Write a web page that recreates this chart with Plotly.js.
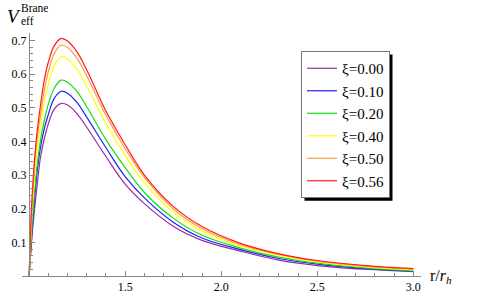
<!DOCTYPE html>
<html>
<head>
<meta charset="utf-8">
<script src="https://cdn.plot.ly/plotly-3.0.1.min.js"></script>
<style>html,body{margin:0;padding:0;background:#fff}#chart{width:482px;height:301px}</style>
</head>
<body>
<div id="chart"></div>
<script>
// r / r_h sample positions
const rValues = [1.0, 1.01, 1.02, 1.04, 1.06, 1.08, 1.1, 1.13, 1.167, 1.2, 1.25, 1.3, 1.4, 1.5, 1.6, 1.75, 1.9, 2.1, 2.3, 2.5, 2.75, 3.0];
// V_eff^Brane for each xi
const xiLabels = ["\u03BE=0.00", "\u03BE=0.10", "\u03BE=0.20", "\u03BE=0.40", "\u03BE=0.50", "\u03BE=0.56"];
const vXi000 = [0, 0.08, 0.15, 0.26, 0.355, 0.41, 0.452, 0.495, 0.513, 0.508, 0.482, 0.442, 0.355, 0.273, 0.215, 0.148, 0.106, 0.074, 0.047, 0.031, 0.020, 0.013];
const vXi010 = [0, 0.09, 0.17, 0.30, 0.385, 0.44, 0.48, 0.527, 0.549, 0.543, 0.515, 0.472, 0.381, 0.295, 0.232, 0.160, 0.113, 0.0785, 0.052, 0.035, 0.022, 0.0145];
const vXi020 = [0, 0.10, 0.19, 0.32, 0.405, 0.465, 0.51, 0.557, 0.582, 0.576, 0.548, 0.503, 0.405, 0.322, 0.248, 0.172, 0.121, 0.083, 0.056, 0.038, 0.024, 0.0155];
const vXi040 = [0, 0.13, 0.23, 0.365, 0.45, 0.52, 0.57, 0.625, 0.652, 0.645, 0.614, 0.564, 0.453, 0.358, 0.278, 0.190, 0.134, 0.089, 0.061, 0.042, 0.027, 0.018];
const vXi050 = [0, 0.15, 0.255, 0.40, 0.48, 0.555, 0.607, 0.66, 0.686, 0.679, 0.646, 0.595, 0.478, 0.378, 0.293, 0.200, 0.141, 0.093, 0.064, 0.044, 0.029, 0.020];
const vXi056 = [0, 0.17, 0.28, 0.42, 0.51, 0.585, 0.635, 0.683, 0.706, 0.698, 0.665, 0.612, 0.490, 0.390, 0.300, 0.207, 0.147, 0.097, 0.066, 0.046, 0.031, 0.022];
const xTickVals = [1.5, 2.0, 2.5, 3.0];
const xTickText = ["1.5", "2.0", "2.5", "3.0"];
const yTickVals = [0.1, 0.2, 0.3, 0.4, 0.5, 0.6, 0.7];
const yTickText = ["0.1", "0.2", "0.3", "0.4", "0.5", "0.6", "0.7"];

const series = [vXi000, vXi010, vXi020, vXi040, vXi050, vXi056];
const colors = ["#9030a0", "#2020ff", "#10e010", "#ffff00", "#ff9a40", "#ff1a1a"];

const traces = series.map((v, i) => ({
  x: rValues, y: v, type: "scatter", mode: "lines", name: xiLabels[i],
  line: {color: colors[i], width: 1.2, shape: "spline", smoothing: 1.0}
}));

const serif = "Liberation Serif";
const W = 482, H = 301, ml = 22, mr = 61, mt = 33, mb = 25.3;
const pw = W - ml - mr, ph = H - mt - mb;
const px = x => (x - ml) / pw;
const py = y => (H - mb - y) / ph;

const legendLeft = 301, legendTop = 51;

const layout = {
  width: W, height: H,
  margin: {l: ml, r: mr, t: mt, b: mb, pad: 0},
  paper_bgcolor: "#fff", plot_bgcolor: "#fff",
  font: {family: serif},
  showlegend: true,
  legend: {
    x: px(legendLeft), y: py(legendTop), xanchor: "left", yanchor: "top",
    bgcolor: "#fff", bordercolor: "#777", borderwidth: 1,
    font: {family: serif, size: 15, color: "#000"},
    tracegroupgap: 0
  },
  xaxis: {
    range: [0.963, 3.04], showgrid: false, zeroline: false,
    showline: true, linecolor: "#888", linewidth: 1,
    tickmode: "array", tickvals: xTickVals, ticktext: xTickText,
    ticks: "inside", ticklen: 5, tickcolor: "#888", tickwidth: 1,
    minor: {tickmode: "linear", tick0: 1, dtick: 0.1, ticks: "inside", ticklen: 3, tickcolor: "#888"},
    tickfont: {family: serif, size: 12, color: "#000"},
    fixedrange: true
  },
  yaxis: {
    range: [0, 0.722], showgrid: false, zeroline: false,
    anchor: "free", position: px(29),
    showline: true, linecolor: "#888", linewidth: 1,
    tickmode: "array", tickvals: yTickVals, ticktext: yTickText,
    ticks: "inside", ticklen: 5, tickcolor: "#888", tickwidth: 1,
    minor: {tickmode: "linear", tick0: 0, dtick: 0.02, ticks: "inside", ticklen: 3, tickcolor: "#888"},
    tickfont: {family: serif, size: 12, color: "#000"},
    fixedrange: true
  },
  shapes: [],
  annotations: [
    {xref: "paper", yref: "paper", x: px(6), y: py(17), xanchor: "left", yanchor: "middle", borderpad: 0,
     text: "<i>V</i>", showarrow: false, font: {family: serif, size: 19, color: "#000"}},
    {xref: "paper", yref: "paper", x: px(19.5), y: py(8), xanchor: "left", yanchor: "middle", borderpad: 0,
     text: "Brane", showarrow: false, font: {family: serif, size: 11.5, color: "#000"}},
    {xref: "paper", yref: "paper", x: px(19.5), y: py(21.5), xanchor: "left", yanchor: "middle", borderpad: 0,
     text: "eff", showarrow: false, font: {family: serif, size: 11.5, color: "#000"}},
    {xref: "paper", yref: "paper", x: px(428), y: py(276), xanchor: "left", yanchor: "middle",
     text: "r/<i>r</i><sub><i>h</i></sub>", showarrow: false, font: {family: serif, size: 16, color: "#000"}}
  ]
};

Plotly.newPlot("chart", traces, layout, {staticPlot: true, displayModeBar: false}).then(gd => {
  // drop shadow behind the legend box, placed from the rendered legend size
  const bg = gd.querySelector(".legend .bg");
  if (!bg) return;
  const r = bg.getBoundingClientRect();
  const g = gd.getBoundingClientRect();
  const x0 = r.left - g.left + 3, x1 = r.right - g.left + 3;
  const y0 = r.top - g.top + 3, y1 = r.bottom - g.top + 3;
  return Plotly.relayout(gd, {shapes: [{
    type: "rect", xref: "paper", yref: "paper",
    x0: px(x0), x1: px(x1), y0: py(y1), y1: py(y0),
    fillcolor: "#000", line: {width: 0}, layer: "above"
  }]});
});
</script>
</body>
</html>
